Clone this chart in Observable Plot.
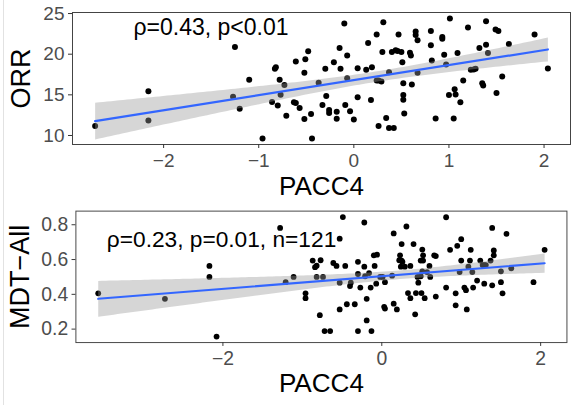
<!DOCTYPE html>
<html>
<head>
<meta charset="utf-8">
<script src="https://cdn.jsdelivr.net/npm/d3@7"></script>
<script src="https://cdn.jsdelivr.net/npm/@observablehq/plot@0.6"></script>
<style>
  html, body { margin: 0; padding: 0; background: #fff; }
  #wrap { position: relative; width: 580px; height: 405px; overflow: hidden; background: #fff;
          font-family: "Liberation Sans", Arial, sans-serif; }
  #top { position: absolute; left: 0; top: 0; }
  #bot { position: absolute; left: 0; top: 200px; }
  #edge { position: absolute; left: 3px; top: 0; width: 1px; height: 405px; background: #e2e2e2; }
</style>
</head>
<body>
<div id="wrap"><div id="top"></div><div id="bot"></div><div id="edge"></div></div>
<script>
// ---- Panel 1: ORR vs PACC4 ----
const orrX = [-2.72,-2.16,-2.16,-1.25,-1.27,-1.20,-1.10,-0.96,-0.86,-0.83,-0.82,-0.80,-0.78,-0.77,-0.73,-0.71,-0.63,-0.61,-0.61,-0.57,
  -0.51,-0.48,-0.52,-0.52,-0.45,-0.44,-0.37,-0.30,-0.29,-0.33,-0.26,-0.26,-0.18,-0.18,-0.21,-0.15,-0.14,-0.10,-0.07,-0.07,
  -0.04,0.00,-0.09,0.04,0.04,0.13,0.15,0.18,0.19,0.24,0.30,0.31,0.24,0.26,0.29,0.26,0.34,0.37,0.42,0.37,
  0.40,0.44,0.46,0.50,0.47,0.51,0.52,0.52,0.52,0.53,0.59,0.60,0.61,0.65,0.65,0.67,0.67,0.81,0.81,0.82,
  0.86,0.93,0.93,0.95,0.97,1.01,1.00,1.05,1.06,1.07,1.09,1.12,1.15,1.20,1.23,1.26,1.28,1.32,1.35,1.36,
  1.39,1.39,1.41,1.49,1.52,1.50,1.56,1.63,1.90,2.04];
const orrY = [11.16,15.44,11.85,20.88,14.78,13.30,16.85,9.63,14.13,18.20,18.40,13.70,16.85,15.00,16.20,12.43,14.08,19.11,14.00,13.38,
  19.39,20.35,17.71,12.03,12.65,9.63,16.48,18.21,14.87,13.76,13.14,12.77,12.93,12.06,19.02,20.75,18.21,23.77,19.85,17.05,
  12.97,11.98,13.76,14.70,18.28,18.08,21.37,14.37,18.40,22.41,20.26,23.93,16.75,16.75,16.63,11.16,12.15,10.91,10.91,17.79,
  20.26,20.47,20.38,20.26,22.41,19.02,16.43,14.99,14.41,12.72,20.18,19.85,16.27,22.78,22.36,21.71,17.71,22.86,21.09,19.23,
  12.10,22.11,21.90,19.93,18.74,24.39,14.99,12.10,15.69,15.03,20.14,14.08,16.76,23.27,18.08,18.12,18.21,20.75,16.43,16.14,
  24.05,21.17,20.14,23.03,22.86,15.24,17.26,21.25,22.41,18.24];
const orrXTicks = [-2, -1, 0, 1, 2];
const orrYTicks = [10, 15, 20, 25];
const orrNote = "ρ=0.43, p<0.01";

// ---- Panel 2: MDT-All vs PACC4 ----
const mdtX = [-3.57,-2.73,-2.17,-2.17,-2.08,-1.28,-1.21,-0.49,-0.22,-0.53,-1.11,-0.96,-0.96,-0.87,-0.77,-0.84,-0.82,-0.82,-0.74,-0.78,
  -0.72,-0.65,-0.61,-0.57,-0.46,-0.53,-0.39,-0.40,-0.53,-0.44,-0.34,-0.30,-0.30,-0.27,-0.22,-0.21,-0.19,-0.19,-0.30,-0.13,
  -0.16,-0.14,-0.10,-0.06,-0.09,-0.07,-0.02,0.01,0.04,0.03,0.04,0.13,0.15,0.19,0.15,0.31,0.25,0.23,0.22,0.25,
  0.26,0.24,0.29,0.36,0.40,0.33,0.36,0.42,0.43,0.50,0.46,0.45,0.49,0.51,0.51,0.52,0.52,0.49,0.54,0.60,
  0.61,0.66,0.68,0.68,0.81,0.81,0.86,0.93,0.93,0.95,1.00,1.00,0.98,1.04,1.06,1.07,1.09,1.11,1.12,1.15,
  1.20,1.24,1.27,1.29,1.31,1.29,1.39,1.41,1.41,1.37,1.39,1.50,1.50,1.52,1.57,1.63,1.91,2.05,0.57,1.14];
const mdtY = [0.406,0.374,0.563,0.500,0.157,0.782,0.470,0.844,0.813,0.720,0.500,0.406,0.378,0.594,0.596,0.556,0.565,0.500,0.500,0.280,
  0.189,0.189,0.580,0.563,0.563,0.467,0.467,0.448,0.313,0.343,0.343,0.587,0.517,0.439,0.559,0.504,0.374,0.250,0.189,0.189,
  0.522,0.439,0.624,0.628,0.563,0.461,0.500,0.500,0.470,0.328,0.318,0.507,0.346,0.313,0.750,0.790,0.689,0.624,0.596,0.593,
  0.587,0.559,0.559,0.563,0.689,0.407,0.378,0.285,0.407,0.407,0.467,0.500,0.504,0.532,0.657,0.624,0.594,0.594,0.378,0.563,
  0.500,0.624,0.620,0.387,0.843,0.439,0.656,0.406,0.337,0.679,0.594,0.717,0.528,0.439,0.424,0.313,0.559,0.594,0.656,0.439,
  0.479,0.594,0.568,0.568,0.568,0.461,0.782,0.652,0.624,0.594,0.452,0.532,0.470,0.406,0.748,0.550,0.470,0.656,0.528,0.528];
const mdtXTicks = [-2, 0, 2];
const mdtYTicks = [0.2, 0.4, 0.6, 0.8];
const mdtNote = "ρ=0.23, p=0.01, n=121";

const xLabel = "PACC4";
const orrLabel = "ORR";
const mdtLabel = "MDT\u2212All";

const FONT = "'Liberation Sans', Arial, sans-serif";
const fmt = d => String(d).replace("-", "\u2212");

// ggplot-style 5% expansion of the data range
function expand(vals) {
  const [a, b] = d3.extent(vals);
  const p = (b - a) * 0.05;
  return [a - p, b + p];
}

function panel({xs, ys, xTicks, yTicks, note, yLabel, width, height, margins, tickFont, titleFont, noteFont, noteDx, noteDy, yTitleDx, xTitleDy}) {
  const data = xs.map((x, i) => ({x, y: ys[i]}));
  return Plot.plot({
    width, height,
    marginLeft: margins[0], marginRight: margins[1], marginTop: margins[2], marginBottom: margins[3],
    style: {fontFamily: FONT, background: "white", overflow: "visible"},
    x: {domain: expand(xs)},
    y: {domain: expand(ys)},
    marks: [
      Plot.dot(data, {x: "x", y: "y", r: 3, fill: "black", stroke: "none"}),
      Plot.linearRegressionY(data, {x: "x", y: "y", stroke: "#3366FF", strokeWidth: 2.2,
        fill: "#999999", fillOpacity: 0.4, ci: 0.95}),
      Plot.frame({stroke: "#444", strokeWidth: 1}),
      Plot.axisX({ticks: xTicks, tickFormat: fmt, tickSize: 4, tickPadding: 5, fontSize: tickFont, label: null,
        stroke: "#333", fill: "#4D4D4D"}),
      Plot.axisY({ticks: yTicks, tickFormat: fmt, tickSize: 4, tickPadding: 4, fontSize: tickFont, label: null,
        stroke: "#333", fill: "#4D4D4D"}),
      Plot.text([note], {text: d => d, frameAnchor: "top-left", textAnchor: "start", lineAnchor: "middle",
        dx: noteDx, dy: noteDy, fontSize: noteFont, fill: "black"}),
      Plot.text([xLabel], {text: d => d, frameAnchor: "bottom", textAnchor: "middle", lineAnchor: "middle",
        dy: xTitleDy, fontSize: titleFont, fill: "black"}),
      Plot.text([yLabel], {text: d => d, frameAnchor: "left", textAnchor: "middle", lineAnchor: "middle",
        rotate: -90, dx: yTitleDx, fontSize: titleFont + 1, fill: "black"})
    ]
  });
}

document.getElementById("top").append(panel({
  xs: orrX, ys: orrY, xTicks: orrXTicks, yTicks: orrYTicks, note: orrNote, yLabel: orrLabel,
  width: 580, height: 200, margins: [72, 10, 12, 56],
  tickFont: 19, titleFont: 26, noteFont: 23, noteDx: 61, noteDy: 15.5, yTitleDx: -51, xTitleDy: 42.5
}));

document.getElementById("bot").append(panel({
  xs: mdtX, ys: mdtY, xTicks: mdtXTicks, yTicks: mdtYTicks, note: mdtNote, yLabel: mdtLabel,
  width: 600, height: 205, margins: [78, 14, 11, 58],
  tickFont: 20, titleFont: 27, noteFont: 23.5, noteDx: 32, noteDy: 29.8, yTitleDx: -57, xTitleDy: 43
}));
</script>
</body>
</html>
